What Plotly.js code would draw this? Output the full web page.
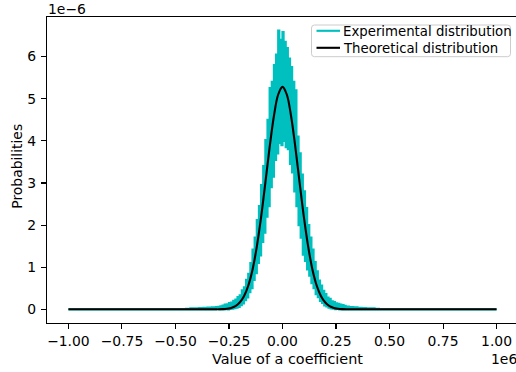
<!DOCTYPE html>
<html>
<head>
<meta charset="utf-8">
<script src="https://cdn.plot.ly/plotly-3.0.1.min.js"></script>
<style>html,body{margin:0;padding:0;background:#fff;}#chart{width:516px;height:372px;}</style>
</head>
<body>
<div id="chart"></div>
<script>
// Values. x in thousands, y in units of 1e-6.
const expX = [-1000,-450,-440,-430,-420,-410,-400,-390,-380,-370,-360,-350,-340,-330,-320,-310,
  -300,-295,-290,-285,-280,-275,-270,-265,-260,-255,-250,-245,-240,-235,-230,-225,-220,-215,-210,-205,
  -200,-195,-190,-185,-180,-175,-170,-165,-160,-155,-150,-145,-140,-135,-130,-125,-120,-115,-110,-105,
  -100,-95,-90,-85,-80,-75,-70,-65,-60,-55,-50,-45,-40,-35,-30,-25,-20,-15,-10,-5,
  0,5,10,15,20,25,30,35,40,45,50,55,60,65,70,75,80,85,90,95,
  100,105,110,115,120,125,130,135,140,145,150,155,160,165,170,175,180,185,190,195,
  200,205,210,215,220,225,230,235,240,245,250,255,260,265,270,275,280,285,290,295,300,
  310,320,330,340,350,360,370,380,390,400,410,420,430,440,450,1000];
const expY = [0,0.01,0,0.02,0,0.025,0,0.03,0,0.035,0,0.04,0,0.045,0,0.05,
  0.06,0,0.07,0.005,0.09,0,0.11,0.005,0.12,0,0.15,0.01,0.16,0.015,0.2,0.03,0.23,0.04,0.29,0.06,
  0.33,0.1,0.45,0.14,0.52,0.22,0.7,0.28,0.84,0.41,1.1,0.5,1.42,0.7,1.7,0.86,2.12,1.1,2.45,1.28,
  2.95,1.6,3.4,1.82,4.02,2.2,4.5,2.45,5.25,2.9,5.4,3.15,5.8,3.55,6.05,3.7,6.62,3.95,6.4,3.9,
  6.58,4.0,6.35,3.85,6.2,3.8,5.95,3.45,5.75,3.25,5.4,2.8,5.2,2.45,4.1,2.0,3.7,1.7,3.2,1.3,
  2.8,1.15,2.4,0.95,2.0,0.8,1.7,0.62,1.42,0.5,1.12,0.36,0.9,0.29,0.68,0.2,0.56,0.15,0.44,0.09,
  0.36,0.07,0.28,0.04,0.25,0.02,0.19,0.015,0.17,0.005,0.14,0.01,0.13,0,0.11,0,0.1,0,0.08,0,0.065,
  0,0.05,0,0.045,0,0.035,0,0.03,0,0.025,0,0.02,0,0.01,0,0];
const theoX = [-1000,-400,-350,-300,-280,-260,-240,-220,-200,-180,-160,-140,-120,-100,-80,-60,-40,-20,
  0,20,40,60,80,100,120,140,160,180,200,220,240,260,280,300,350,400,1000];
const theoY = [0,0,0,0.002,0.005,0.014,0.033,0.075,0.16,0.31,0.56,0.94,1.49,2.19,3.01,3.85,4.59,5.10,
  5.28,5.10,4.59,3.85,3.01,2.19,1.49,0.94,0.56,0.31,0.16,0.075,0.033,0.014,0.005,0.002,0,0,0];
const xTicks = [-1.00,-0.75,-0.50,-0.25,0.00,0.25,0.50,0.75,1.00];
const yTicks = [0,1,2,3,4,5,6];
const names = ["Experimental distribution","Theoretical distribution"];
const colors = ['#00bfbf','#000000'];

const F = "DejaVu Sans";
const FS = 13.9;
const W = 516, H = 372, ML = 47, MR = 0, MT = 17, MB = 49;
const PW = W-ML-MR, PH = H-MT-MB;
const toM = a => a.map(v => v/1000);
const px = x => (x-ML)/PW;      // pixel -> paper x
const py = y => (H-MB-y)/PH;    // pixel -> paper y

const traces = [
  {x: toM(expX), y: expY, type:'scatter', mode:'lines', name:names[0],
   line:{color:colors[0], width:2.2, shape:'hv'}},
  {x: toM(theoX), y: theoY, type:'scatter', mode:'lines', name:names[1],
   line:{color:colors[1], width:2.1, shape:'spline', smoothing:1}}
];

// legend box (drawn as shapes + text)
const bx0=311.5, bx1=510.5, by0=25, by1=56.7, r=3;
const rx=r/PW, ry=r/PH;
const X0=px(bx0), X1=px(bx1), Y0=py(by1), Y1=py(by0);
const boxPath = `M ${X0+rx} ${Y1} L ${X1-rx} ${Y1} Q ${X1} ${Y1} ${X1} ${Y1-ry} L ${X1} ${Y0+ry} Q ${X1} ${Y0} ${X1-rx} ${Y0} L ${X0+rx} ${Y0} Q ${X0} ${Y0} ${X0} ${Y0+ry} L ${X0} ${Y1-ry} Q ${X0} ${Y1} ${X0+rx} ${Y1} Z`;
const rowY = [31.3, 48.3];
const shapes = [
  {type:'path', xref:'paper', yref:'paper', path:boxPath, fillcolor:'rgba(255,255,255,0.8)',
   line:{color:'#cccccc', width:1}}
];
const legendAnn = [];
names.forEach((n,i)=>{
  shapes.push({type:'line', xref:'paper', yref:'paper', x0:px(316.5), x1:px(340), y0:py(rowY[i]-0.5), y1:py(rowY[i]-0.5),
    line:{color:colors[i], width:2.1}});
  legendAnn.push({text:n, xref:'paper', yref:'paper', x:px(340.5), y:py(rowY[i]), xanchor:'left', yanchor:'middle',
    showarrow:false, font:{family:F, size:13.3, color:'#000'}});
});

const layout = {
  width:W, height:H,
  margin:{l:ML, r:MR, t:MT, b:MB, pad:0},
  paper_bgcolor:'#fff', plot_bgcolor:'#fff',
  font:{family:F, size:FS, color:'#000'},
  showlegend:false,
  xaxis:{range:[-1.1, 1.0907], showgrid:false, zeroline:false,
    showline:true, mirror:true, linecolor:'#000', linewidth:1.1,
    ticks:'outside', ticklen:5, tickwidth:1.1, tickcolor:'#000',
    tickvals:xTicks, tickformat:'.2f', ticklabelstandoff:0,
    tickfont:{family:F, size:FS, color:'#000'}},
  yaxis:{range:[-0.325, 6.94], showgrid:false, zeroline:false,
    showline:true, mirror:false, linecolor:'#000', linewidth:1.1,
    ticks:'outside', ticklen:5, tickwidth:1.1, tickcolor:'#000',
    tickvals:yTicks, tickformat:'d', ticklabelstandoff:2,
    tickfont:{family:F, size:FS, color:'#000'}},
  shapes: shapes,
  annotations:[
    {text:'1e\u22126', xref:'paper', yref:'paper', x:0, y:1, xanchor:'left', yanchor:'middle',
     yshift:8, xshift:-1, showarrow:false, font:{family:F, size:FS, color:'#000'}},
    {text:'1e6', xref:'paper', yref:'paper', x:1, y:0, xanchor:'right', yanchor:'middle',
     yshift:-36, xshift:3, showarrow:false, font:{family:F, size:FS, color:'#000'}},
    {text:'Value of a coefficient', xref:'paper', yref:'paper', x:px(287), y:0, xanchor:'center', yanchor:'middle',
     yshift:-36, showarrow:false, font:{family:F, size:14.4, color:'#000'}},
    {text:'Probabilities', xref:'paper', yref:'paper', x:0, y:py(166.7), xanchor:'center', yanchor:'middle',
     xshift:-30, textangle:-90, showarrow:false, font:{family:F, size:FS, color:'#000'}}
  ].concat(legendAnn)
};

Plotly.newPlot('chart', traces, layout, {displayModeBar:false, staticPlot:true});
</script>
</body>
</html>
